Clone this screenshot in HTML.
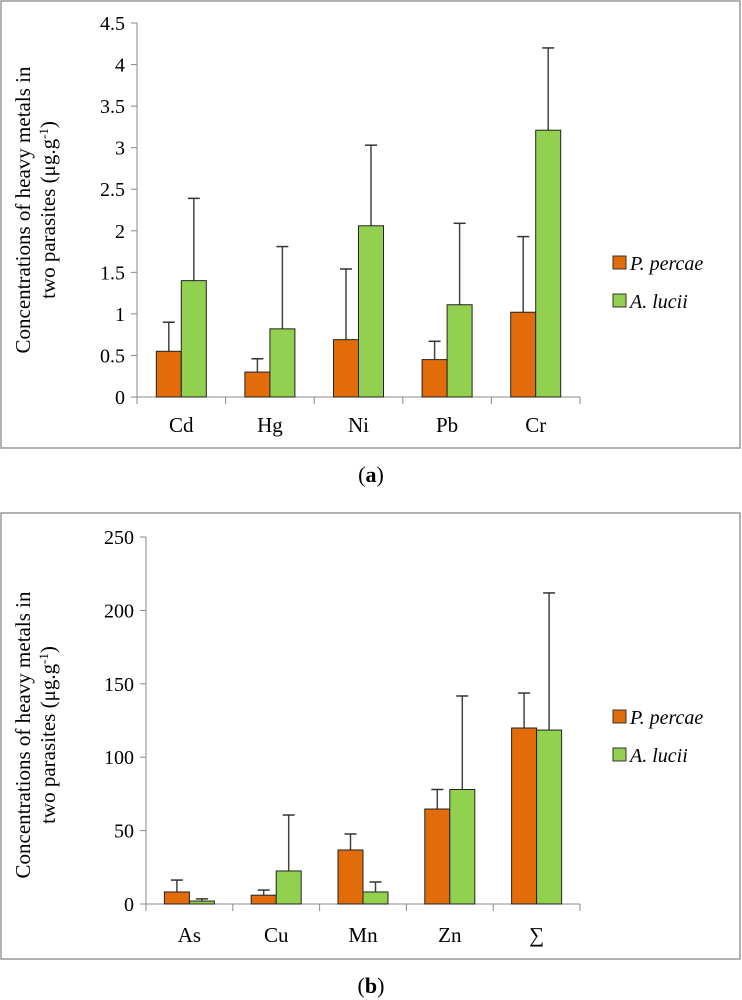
<!DOCTYPE html>
<html><head><meta charset="utf-8"><style>
body{margin:0;background:#fff;width:742px;height:1000px;overflow:hidden}
svg{display:block}
svg text{font-family:"Liberation Serif","DejaVu Serif",serif}
</style></head><body>
<svg width="742" height="1000" font-family="Liberation Serif, serif">
<g id="ga"></g>
<g id="gb"></g>
</svg>
<script>
const catsA=["Cd","Hg","Ni","Pb","Cr"];
const percaeA=[0.55,0.3,0.69,0.45,1.02];
const percaeErrA=[0.9,0.46,1.54,0.67,1.93];
const luciiA=[1.4,0.82,2.06,1.11,3.21];
const luciiErrA=[2.39,1.81,3.03,2.09,4.2];
const ticksA=["0","0.5","1","1.5","2","2.5","3","3.5","4","4.5"];
const catsB=["As","Cu","Mn","Zn","∑"];
const percaeB=[8.2,6,36.8,64.7,119.9];
const percaeErrB=[16.3,9.5,47.7,78,143.7];
const luciiB=[2,22.5,8.2,78,118.5];
const luciiErrB=[3.5,60.6,15,141.7,211.9];
const ticksB=["0","50","100","150","200","250"];
const NS="http://www.w3.org/2000/svg";
function mk(p,t,a,txt){const e=document.createElementNS(NS,t);for(const k in a)e.setAttribute(k,a[k]);if(txt!==undefined)e.textContent=txt;p.appendChild(e);return e;}
function chart(g,o){
  const b=mk(g,'rect',{x:o.bx,y:o.by,width:o.bw,height:o.bh,fill:'none',stroke:'#999','stroke-width':1.5});
  
  const max=o.max,y=v=>o.y0-(v/max)*(o.y0-o.yTop);
  const ax=mk(g,'line',{x1:o.x0,y1:o.yTop,x2:o.x0,y2:o.y0,stroke:'#888','stroke-width':1});
  
  o.ticks.forEach((t,i)=>{const v=parseFloat(t),yy=y(v);
    mk(g,'line',{x1:o.x0-6,y1:yy,x2:o.x0,y2:yy,stroke:'#888'});
    const tl=mk(g,'text',{x:o.x0-12,y:yy+7,'text-anchor':'end','font-size':20},t);
    });
  const n=o.cats.length,cw=(o.x1-o.x0)/n;
  const xa=mk(g,'line',{x1:o.x0,y1:o.y0,x2:o.x1,y2:o.y0,stroke:'#888'});
  
  for(let i=0;i<=n;i++)mk(g,'line',{x1:o.x0+i*cw,y1:o.y0,x2:o.x0+i*cw,y2:o.y0+7,stroke:'#888'});
  o.cats.forEach((c,i)=>{const cx=o.x0+(i+0.5)*cw;
    [[o.s1,o.e1,'#e36c0a',cx-25,'bar-percae-'],[o.s2,o.e2,'#92d050',cx,'bar-lucii-']].forEach(([s,e,col,x,nm])=>{
      const ex=x+12.5;
      const el=mk(g,'line',{x1:ex,y1:y(e[i]),x2:ex,y2:y(s[i]),stroke:'#444','stroke-width':1.5});
      
      mk(g,'line',{x1:ex-6,y1:y(e[i]),x2:ex+6,y2:y(e[i]),stroke:'#333','stroke-width':1.5});
      const r=mk(g,'rect',{x:x,y:y(s[i]),width:25,height:o.y0-y(s[i]),fill:col,stroke:'#222','stroke-width':1});
      });
    const cl=mk(g,'text',{x:cx,y:o.y0+o.labOff,'text-anchor':'middle','font-size':21},c);
    });
  const tt=mk(g,'text',{transform:`translate(${o.tx},${o.ty}) rotate(-90)`,'text-anchor':'middle','font-size':21});
  
  mk(tt,'tspan',{x:0,dy:-12},'Concentrations of heavy metals in');
  mk(tt,'tspan',{x:0,dy:25},'two parasites (μg.g');
  mk(tt,'tspan',{'baseline-shift':'super','font-size':13},'-1');
  mk(tt,'tspan',{},')');
  [['#e36c0a','P. percae',o.ly],['#92d050','A. lucii',o.ly+38]].forEach(([c,l,yy])=>{
    const s=mk(g,'rect',{x:613,y:yy-7,width:13,height:13,fill:c,stroke:'#333'});
    
    const lt=mk(g,'text',{x:630,y:yy+7,'font-size':20,'font-style':'italic'},l);
    });
  const cap=mk(g,'text',{x:371,y:o.capY,'text-anchor':'middle','font-size':22,'font-weight':'bold'});
  
  mk(cap,'tspan',{'font-weight':'normal'},'(');mk(cap,'tspan',{},o.cap);mk(cap,'tspan',{'font-weight':'normal'},')');
}
chart(document.getElementById('ga'),{bx:1,by:1,bw:739,bh:447,x0:137,x1:580,y0:397,yTop:23,max:4.5,ticks:ticksA,cats:catsA,s1:percaeA,e1:percaeErrA,s2:luciiA,e2:luciiErrA,labOff:35,tx:42,ty:210,ly:263,capY:482,cap:'a'});
chart(document.getElementById('gb'),{bx:1,by:513,bw:739,bh:446,x0:146,x1:580,y0:904,yTop:537,max:250,ticks:ticksB,cats:catsB,s1:percaeB,e1:percaeErrB,s2:luciiB,e2:luciiErrB,labOff:38,tx:42,ty:735,ly:717,capY:993,cap:'b'});
</script>
</body></html>
